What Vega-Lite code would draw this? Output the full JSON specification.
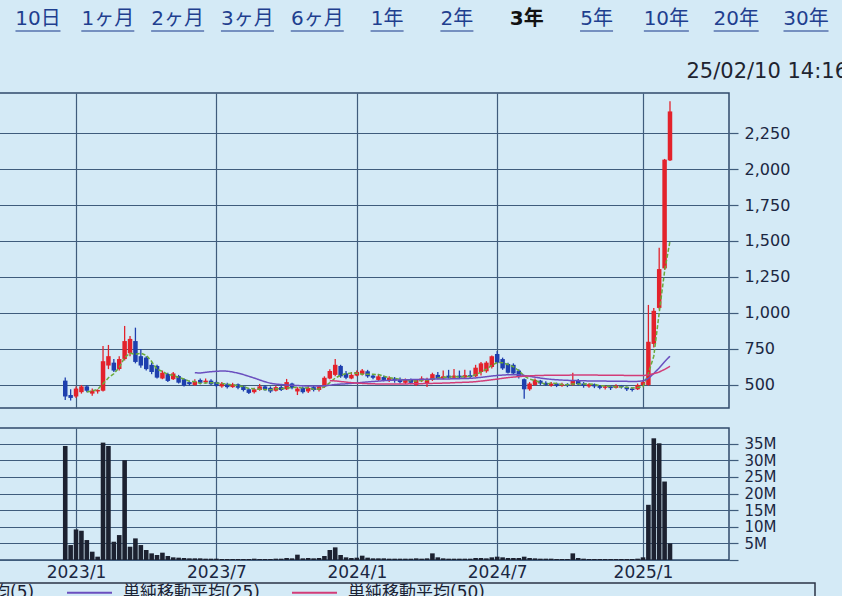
{
"$schema": "https://vega.github.io/schema/vega-lite/v6.json",
"background": "#d4eaf6",
"padding": {"left": -149, "top": 0, "right": 0, "bottom": 0},
"config": {
  "font": "DejaVu Sans, Noto Sans CJK JP, sans-serif",
  "view": {"stroke": "#2f4a6b", "strokeWidth": 1.5},
  "axis": {"gridColor": "#3f5c7c", "gridWidth": 1.2, "gridOpacity": 1, "tickColor": "#3f5c7c", "tickWidth": 1.2, "labelColor": "#1b2742", "domain": false}
},
"datasets": {
  "tabs": [{"tab":"10日"},{"tab":"1ヶ月"},{"tab":"2ヶ月"},{"tab":"3ヶ月"},{"tab":"6ヶ月"},{"tab":"1年"},{"tab":"2年"},{"tab":"3年"},{"tab":"5年"},{"tab":"10年"},{"tab":"20年"},{"tab":"30年"}],
  "w": [
{"date":"2022-12-19","open":530,"high":552,"low":395,"close":420,"volume":34300000},
{"date":"2022-12-26","open":430,"high":470,"low":392,"close":410,"volume":4500000},
{"date":"2023-01-02","open":420,"high":490,"low":410,"close":475,"volume":9200000},
{"date":"2023-01-09","open":450,"high":500,"low":440,"close":490,"volume":8800000},
{"date":"2023-01-16","open":490,"high":500,"low":450,"close":460,"volume":6000000,"ma5":451},
{"date":"2023-01-23","open":440,"high":475,"low":425,"close":460,"volume":2500000,"ma5":459},
{"date":"2023-01-30","open":455,"high":470,"low":440,"close":465,"volume":1000000,"ma5":470},
{"date":"2023-02-06","open":460,"high":770,"low":455,"close":665,"volume":35300000,"ma5":508},
{"date":"2023-02-13","open":635,"high":778,"low":610,"close":700,"volume":34300000,"ma5":550},
{"date":"2023-02-20","open":655,"high":680,"low":590,"close":600,"volume":5500000,"ma5":578},
{"date":"2023-02-27","open":611,"high":700,"low":600,"close":680,"volume":7500000,"ma5":622},
{"date":"2023-03-06","open":680,"high":910,"low":670,"close":805,"volume":30000000,"ma5":690},
{"date":"2023-03-13","open":720,"high":840,"low":700,"close":820,"volume":4000000,"ma5":721},
{"date":"2023-03-20","open":805,"high":898,"low":650,"close":660,"volume":6500000,"ma5":713},
{"date":"2023-03-27","open":700,"high":750,"low":620,"close":635,"volume":4500000,"ma5":720},
{"date":"2023-04-03","open":690,"high":700,"low":600,"close":610,"volume":3000000,"ma5":706},
{"date":"2023-04-10","open":640,"high":655,"low":575,"close":590,"volume":2000000,"ma5":663},
{"date":"2023-04-17","open":632,"high":640,"low":545,"close":551,"volume":1500000,"ma5":609},
{"date":"2023-04-24","open":545,"high":600,"low":540,"close":585,"volume":2200000,"ma5":594},
{"date":"2023-05-01","open":576,"high":585,"low":520,"close":528,"volume":1200000,"ma5":573},
{"date":"2023-05-08","open":540,"high":590,"low":535,"close":580,"volume":800000,"ma5":567},
{"date":"2023-05-15","open":562,"high":570,"low":510,"close":516,"volume":700000,"ma5":552},
{"date":"2023-05-22","open":540,"high":545,"low":490,"close":495,"volume":600000,"ma5":541},
{"date":"2023-05-29","open":520,"high":530,"low":495,"close":505,"volume":500000,"ma5":525},
{"date":"2023-06-05","open":500,"high":540,"low":495,"close":525,"volume":500000,"ma5":524,"ma25":585},
{"date":"2023-06-12","open":535,"high":545,"low":505,"close":515,"volume":500000,"ma5":511,"ma25":583},
{"date":"2023-06-19","open":520,"high":545,"low":510,"close":530,"volume":400000,"ma5":514,"ma25":588},
{"date":"2023-06-26","open":530,"high":540,"low":500,"close":505,"volume":400000,"ma5":516,"ma25":592},
{"date":"2023-07-03","open":520,"high":530,"low":485,"close":495,"volume":400000,"ma5":514,"ma25":595},
{"date":"2023-07-10","open":490,"high":520,"low":480,"close":510,"volume":300000,"ma5":511,"ma25":597},
{"date":"2023-07-17","open":505,"high":515,"low":475,"close":485,"volume":300000,"ma5":505,"ma25":596},
{"date":"2023-07-24","open":485,"high":515,"low":480,"close":505,"volume":300000,"ma5":500,"ma25":590},
{"date":"2023-07-31","open":505,"high":510,"low":470,"close":480,"volume":300000,"ma5":495,"ma25":582},
{"date":"2023-08-07","open":490,"high":495,"low":455,"close":465,"volume":300000,"ma5":489,"ma25":572},
{"date":"2023-08-14","open":470,"high":478,"low":437,"close":445,"volume":300000,"ma5":476,"ma25":560},
{"date":"2023-08-21","open":450,"high":480,"low":440,"close":470,"volume":400000,"ma5":473,"ma25":548},
{"date":"2023-08-28","open":465,"high":507,"low":460,"close":490,"volume":300000,"ma5":470,"ma25":535},
{"date":"2023-09-04","open":490,"high":500,"low":460,"close":470,"volume":300000,"ma5":468,"ma25":522},
{"date":"2023-09-11","open":480,"high":490,"low":445,"close":455,"volume":300000,"ma5":466,"ma25":512},
{"date":"2023-09-18","open":460,"high":495,"low":455,"close":485,"volume":400000,"ma5":474,"ma25":506},
{"date":"2023-09-25","open":485,"high":495,"low":458,"close":465,"volume":400000,"ma5":473,"ma25":503},
{"date":"2023-10-02","open":470,"high":542,"low":465,"close":520,"volume":600000,"ma5":479,"ma25":500},
{"date":"2023-10-09","open":510,"high":515,"low":470,"close":480,"volume":500000,"ma5":481,"ma25":498},
{"date":"2023-10-16","open":455,"high":485,"low":430,"close":475,"volume":1600000,"ma5":485,"ma25":496},
{"date":"2023-10-23","open":480,"high":490,"low":440,"close":450,"volume":500000,"ma5":478,"ma25":494},
{"date":"2023-10-30","open":455,"high":493,"low":445,"close":480,"volume":600000,"ma5":481,"ma25":493},
{"date":"2023-11-06","open":485,"high":495,"low":455,"close":465,"volume":500000,"ma5":470,"ma25":492},
{"date":"2023-11-13","open":465,"high":500,"low":455,"close":490,"volume":600000,"ma5":472,"ma25":492},
{"date":"2023-11-20","open":490,"high":560,"low":480,"close":550,"volume":1200000,"ma5":487,"ma25":494},
{"date":"2023-11-27","open":545,"high":610,"low":540,"close":597,"volume":3000000,"ma5":516,"ma25":498,"ma50":530},
{"date":"2023-12-04","open":570,"high":680,"low":560,"close":640,"volume":3800000,"ma5":548,"ma25":503,"ma50":528},
{"date":"2023-12-11","open":632,"high":640,"low":550,"close":560,"volume":1500000,"ma5":567,"ma25":506,"ma50":524},
{"date":"2023-12-18","open":580,"high":597,"low":540,"close":550,"volume":800000,"ma5":579,"ma25":508,"ma50":520},
{"date":"2023-12-25","open":545,"high":590,"low":540,"close":570,"volume":600000,"ma5":583,"ma25":511,"ma50":516},
{"date":"2024-01-01","open":565,"high":600,"low":560,"close":590,"volume":700000,"ma5":582,"ma25":514,"ma50":513},
{"date":"2024-01-08","open":575,"high":611,"low":565,"close":600,"volume":1300000,"ma5":574,"ma25":518,"ma50":511},
{"date":"2024-01-15","open":595,"high":605,"low":550,"close":560,"volume":700000,"ma5":574,"ma25":521,"ma50":509},
{"date":"2024-01-22","open":565,"high":575,"low":540,"close":550,"volume":500000,"ma5":574,"ma25":524,"ma50":508},
{"date":"2024-01-29","open":535,"high":576,"low":528,"close":560,"volume":500000,"ma5":572,"ma25":527,"ma50":507},
{"date":"2024-02-05","open":555,"high":565,"low":525,"close":535,"volume":500000,"ma5":561,"ma25":530,"ma50":507},
{"date":"2024-02-12","open":530,"high":560,"low":520,"close":550,"volume":400000,"ma5":551,"ma25":532,"ma50":507},
{"date":"2024-02-19","open":545,"high":555,"low":516,"close":530,"volume":400000,"ma5":545,"ma25":534,"ma50":507},
{"date":"2024-02-26","open":535,"high":551,"low":510,"close":520,"volume":400000,"ma5":539,"ma25":535,"ma50":507},
{"date":"2024-03-04","open":515,"high":545,"low":507,"close":535,"volume":400000,"ma5":534,"ma25":536,"ma50":507},
{"date":"2024-03-11","open":535,"high":545,"low":505,"close":515,"volume":400000,"ma5":530,"ma25":537,"ma50":508},
{"date":"2024-03-18","open":500,"high":542,"low":493,"close":535,"volume":500000,"ma5":527,"ma25":538,"ma50":508},
{"date":"2024-03-25","open":530,"high":560,"low":520,"close":545,"volume":400000,"ma5":530,"ma25":539,"ma50":509},
{"date":"2024-04-01","open":510,"high":550,"low":485,"close":540,"volume":500000,"ma5":534,"ma25":540,"ma50":510},
{"date":"2024-04-08","open":535,"high":585,"low":528,"close":575,"volume":2000000,"ma5":542,"ma25":541,"ma50":511},
{"date":"2024-04-15","open":570,"high":590,"low":540,"close":545,"volume":800000,"ma5":548,"ma25":542,"ma50":512},
{"date":"2024-04-22","open":545,"high":600,"low":540,"close":560,"volume":500000,"ma5":553,"ma25":542,"ma50":513},
{"date":"2024-04-29","open":565,"high":605,"low":545,"close":550,"volume":400000,"ma5":554,"ma25":542,"ma50":514},
{"date":"2024-05-06","open":550,"high":611,"low":545,"close":565,"volume":400000,"ma5":559,"ma25":543,"ma50":516},
{"date":"2024-05-13","open":565,"high":600,"low":545,"close":552,"volume":400000,"ma5":554,"ma25":544,"ma50":517},
{"date":"2024-05-20","open":552,"high":605,"low":545,"close":568,"volume":400000,"ma5":559,"ma25":545,"ma50":519},
{"date":"2024-05-27","open":568,"high":600,"low":548,"close":555,"volume":400000,"ma5":558,"ma25":546,"ma50":520},
{"date":"2024-06-03","open":560,"high":640,"low":555,"close":620,"volume":600000,"ma5":572,"ma25":549,"ma50":523},
{"date":"2024-06-10","open":590,"high":660,"low":565,"close":650,"volume":600000,"ma5":589,"ma25":553,"ma50":527},
{"date":"2024-06-17","open":595,"high":665,"low":585,"close":655,"volume":500000,"ma5":610,"ma25":557,"ma50":531},
{"date":"2024-06-24","open":625,"high":705,"low":615,"close":700,"volume":800000,"ma5":636,"ma25":562,"ma50":536},
{"date":"2024-07-01","open":715,"high":736,"low":650,"close":655,"volume":1000000,"ma5":656,"ma25":566,"ma50":541},
{"date":"2024-07-08","open":680,"high":690,"low":605,"close":615,"volume":800000,"ma5":655,"ma25":569,"ma50":546},
{"date":"2024-07-15","open":646,"high":655,"low":580,"close":585,"volume":600000,"ma5":642,"ma25":571,"ma50":551},
{"date":"2024-07-22","open":640,"high":650,"low":570,"close":580,"volume":600000,"ma5":627,"ma25":572,"ma50":555},
{"date":"2024-07-29","open":600,"high":610,"low":545,"close":560,"volume":600000,"ma5":599,"ma25":571,"ma50":558},
{"date":"2024-08-05","open":540,"high":545,"low":405,"close":470,"volume":1000000,"ma5":562,"ma25":566,"ma50":561},
{"date":"2024-08-12","open":470,"high":520,"low":460,"close":510,"volume":600000,"ma5":541,"ma25":560,"ma50":563},
{"date":"2024-08-19","open":500,"high":545,"low":495,"close":535,"volume":500000,"ma5":531,"ma25":554,"ma50":565},
{"date":"2024-08-26","open":530,"high":535,"low":500,"close":510,"volume":400000,"ma5":517,"ma25":548,"ma50":566},
{"date":"2024-09-02","open":515,"high":525,"low":493,"close":500,"volume":400000,"ma5":505,"ma25":543,"ma50":567},
{"date":"2024-09-09","open":495,"high":520,"low":488,"close":510,"volume":400000,"ma5":513,"ma25":539,"ma50":567},
{"date":"2024-09-16","open":510,"high":516,"low":485,"close":495,"volume":300000,"ma5":510,"ma25":536,"ma50":568},
{"date":"2024-09-23","open":495,"high":515,"low":488,"close":505,"volume":300000,"ma5":504,"ma25":534,"ma50":568},
{"date":"2024-09-30","open":505,"high":512,"low":485,"close":495,"volume":300000,"ma5":501,"ma25":532,"ma50":568},
{"date":"2024-10-07","open":500,"high":585,"low":495,"close":530,"volume":2000000,"ma5":507,"ma25":531,"ma50":569},
{"date":"2024-10-14","open":530,"high":542,"low":495,"close":505,"volume":600000,"ma5":506,"ma25":530,"ma50":569},
{"date":"2024-10-21","open":510,"high":520,"low":481,"close":495,"volume":400000,"ma5":506,"ma25":529,"ma50":569},
{"date":"2024-10-28","open":490,"high":512,"low":480,"close":505,"volume":300000,"ma5":506,"ma25":528,"ma50":569},
{"date":"2024-11-04","open":505,"high":510,"low":478,"close":490,"volume":300000,"ma5":505,"ma25":528,"ma50":569},
{"date":"2024-11-11","open":495,"high":500,"low":470,"close":480,"volume":300000,"ma5":495,"ma25":527,"ma50":568},
{"date":"2024-11-18","open":480,"high":495,"low":468,"close":490,"volume":300000,"ma5":492,"ma25":527,"ma50":568},
{"date":"2024-11-25","open":490,"high":495,"low":465,"close":478,"volume":300000,"ma5":489,"ma25":526,"ma50":568},
{"date":"2024-12-02","open":480,"high":505,"low":475,"close":495,"volume":300000,"ma5":487,"ma25":526,"ma50":567},
{"date":"2024-12-09","open":495,"high":500,"low":475,"close":485,"volume":300000,"ma5":486,"ma25":525,"ma50":567},
{"date":"2024-12-16","open":485,"high":490,"low":458,"close":470,"volume":300000,"ma5":484,"ma25":525,"ma50":566},
{"date":"2024-12-23","open":475,"high":482,"low":455,"close":465,"volume":300000,"ma5":479,"ma25":524,"ma50":566},
{"date":"2024-12-30","open":470,"high":510,"low":465,"close":500,"volume":400000,"ma5":483,"ma25":525,"ma50":565},
{"date":"2025-01-06","open":500,"high":535,"low":495,"close":520,"volume":800000,"ma5":488,"ma25":528,"ma50":565},
{"date":"2025-01-13","open":500,"high":1056,"low":495,"close":800,"volume":16600000,"ma5":580,"ma25":545,"ma50":570},
{"date":"2025-01-20","open":785,"high":1035,"low":760,"close":1015,"volume":36600000,"ma5":700,"ma25":580,"ma50":578},
{"date":"2025-01-27","open":1035,"high":1453,"low":1025,"close":1305,"volume":35100000,"ma5":1000,"ma25":618,"ma50":590},
{"date":"2025-02-03","open":1310,"high":2070,"low":1300,"close":2065,"volume":23600000,"ma5":1290,"ma25":662,"ma50":608},
{"date":"2025-02-10","open":2060,"high":2470,"low":2055,"close":2400,"volume":5000000,"ma5":1500,"ma25":700,"ma50":630}
  ]
},
"spacing": 1,
"vconcat": [
  {
    "width": 862, "height": 91,
    "view": {"stroke": null},
    "data": {"name": "tabs"},
    "encoding": {
      "x": {"field": "tab", "type": "nominal", "axis": null,
            "scale": {"type": "point", "domain": ["10日","1ヶ月","2ヶ月","3ヶ月","6ヶ月","1年","2年","3年","5年","10年","20年","30年"], "padding": 0.673, "align": 0.617}},
      "y": {"datum": "tabs", "type": "nominal", "axis": null, "scale": {"type": "point", "domain": ["tabs","stamp"], "range": [19, 72], "padding": 0}}
    },
    "layer": [
      {"transform": [{"filter": "datum.tab !== '3年'"}],
       "mark": {"type": "text", "fontSize": 20, "baseline": "middle", "color": "#1f3f8f"},
       "encoding": {"text": {"field": "tab"}}},
      {"transform": [{"filter": "datum.tab === '3年'"}],
       "mark": {"type": "text", "fontSize": 20, "baseline": "middle", "fontWeight": "bold", "color": "#111111"},
       "encoding": {"text": {"field": "tab"}}},
      {"transform": [{"filter": {"field": "tab", "oneOf": ["1年","2年","5年"]}}],
       "mark": {"type": "tick", "orient": "horizontal", "thickness": 1.6, "size": 33, "yOffset": 12, "color": "#1f3f8f"}},
      {"transform": [{"filter": {"field": "tab", "oneOf": ["10日","10年","20年","30年"]}}],
       "mark": {"type": "tick", "orient": "horizontal", "thickness": 1.6, "size": 45, "yOffset": 12, "color": "#1f3f8f"}},
      {"transform": [{"filter": {"field": "tab", "oneOf": ["1ヶ月","2ヶ月","3ヶ月","6ヶ月"]}}],
       "mark": {"type": "tick", "orient": "horizontal", "thickness": 1.6, "size": 53, "yOffset": 12, "color": "#1f3f8f"}},
      {"transform": [{"filter": "datum.tab === '30年'"}],
       "mark": {"type": "text", "fontSize": 21, "align": "right", "baseline": "middle", "dx": 42, "color": "#1e2430"},
       "encoding": {"y": {"datum": "stamp", "type": "nominal"}, "text": {"value": "25/02/10 14:16"}}}
    ]
  },
  {
    "spacing": 18,
    "vconcat": [
      {
        "width": 749, "height": 315,
        "data": {"name": "w"},
        "encoding": {
          "x": {"field": "date", "type": "temporal", "title": null,
                "scale": {"type": "utc", "padding": 0, "domain": [{"year": 2022, "month": 8, "date": 30, "hours": 12, "utc": true}, {"year": 2025, "month": 4, "date": 27, "hours": 12, "utc": true}]},
                "axis": {"values": [{"year": 2023, "month": 1, "date": 2, "utc": true}, {"year": 2023, "month": 7, "date": 3, "utc": true}, {"year": 2024, "month": 1, "date": 1, "utc": true}, {"year": 2024, "month": 7, "date": 1, "utc": true}, {"year": 2025, "month": 1, "date": 6, "utc": true}],
                         "grid": true, "labels": false, "ticks": false, "title": null}}
        },
        "layer": [
          {"mark": {"type": "rule", "strokeWidth": 1.3},
           "encoding": {
             "y": {"field": "low", "type": "quantitative", "title": null,
                   "scale": {"domain": [340, 2528], "nice": false, "zero": false, "padding": 0},
                   "axis": {"orient": "right", "values": [500,750,1000,1250,1500,1750,2000,2250], "format": ",.0f", "grid": true, "tickSize": 9, "labelFontSize": 16, "labelPadding": 6, "title": null}},
             "y2": {"field": "high"},
             "color": {"condition": {"test": "datum.close >= datum.open", "value": "#e3222b"}, "value": "#1e3fae"}
           }},
          {"mark": {"type": "bar", "size": 4.5},
           "encoding": {
             "y": {"field": "open", "type": "quantitative", "title": null},
             "y2": {"field": "close"},
             "color": {"condition": {"test": "datum.close >= datum.open", "value": "#e3222b"}, "value": "#1e3fae"}
           }},
          {"transform": [{"fold": ["ma5", "ma25", "ma50"], "as": ["series", "ma"]}],
           "mark": {"type": "line", "strokeWidth": 1.5},
           "encoding": {
             "y": {"field": "ma", "type": "quantitative", "title": null},
             "strokeDash": {"field": "series", "type": "nominal", "scale": {"domain": ["ma5","ma25","ma50"], "range": [[4,2],[1,0],[1,0]]}, "legend": null},
             "color": {"field": "series", "type": "nominal",
                       "scale": {"domain": ["ma5","ma25","ma50"], "range": ["#6aaa3a","#6a4fbf","#d23c78"]},
                       "legend": {"orient": "none", "legendX": -129, "legendY": 569, "direction": "horizontal", "title": null,
                                  "symbolType": "stroke", "symbolSize": 2025, "symbolStrokeWidth": 2,
                                  "labelFontSize": 17, "labelColor": "#1b2233", "labelOffset": 10, "columnPadding": 28, "padding": 0,
                                  "labelExpr": "datum.label === 'ma5' ? '単純移動平均(5)' : datum.label === 'ma25' ? '単純移動平均(25)' : '単純移動平均(50)'"}}
           }}
        ]
      },
      {
        "width": 749, "height": 132,
        "data": {"name": "w"},
        "mark": {"type": "bar", "size": 4.6, "color": "#1c2130"},
        "encoding": {
          "x": {"field": "date", "type": "temporal", "title": null,
                "scale": {"type": "utc", "padding": 0, "domain": [{"year": 2022, "month": 8, "date": 30, "hours": 12, "utc": true}, {"year": 2025, "month": 4, "date": 27, "hours": 12, "utc": true}]},
                "axis": {"values": [{"year": 2023, "month": 1, "date": 2, "utc": true}, {"year": 2023, "month": 7, "date": 3, "utc": true}, {"year": 2024, "month": 1, "date": 1, "utc": true}, {"year": 2024, "month": 7, "date": 1, "utc": true}, {"year": 2025, "month": 1, "date": 6, "utc": true}],
                         "grid": true, "ticks": false, "labelExpr": "utcFormat(datum.value, '%Y/%-m')", "labelFontSize": 17, "labelPadding": 4, "title": null}},
          "y": {"field": "volume", "type": "quantitative", "title": null,
                "scale": {"domain": [0, 39700000], "nice": false, "padding": 0},
                "axis": {"orient": "right", "values": [0,5000000,10000000,15000000,20000000,25000000,30000000,35000000], "labelExpr": "datum.value === 0 ? '' : (datum.value / 1000000) + 'M'", "grid": true, "tickSize": 9, "labelFontSize": 15, "labelPadding": 6, "title": null}}
        }
      }
    ]
  },
  {
    "width": 835, "height": 30,
    "data": {"values": [{}]},
    "mark": {"type": "text"},
    "view": {"stroke": "#2a3346", "strokeWidth": 1.5}
  }
]
}
